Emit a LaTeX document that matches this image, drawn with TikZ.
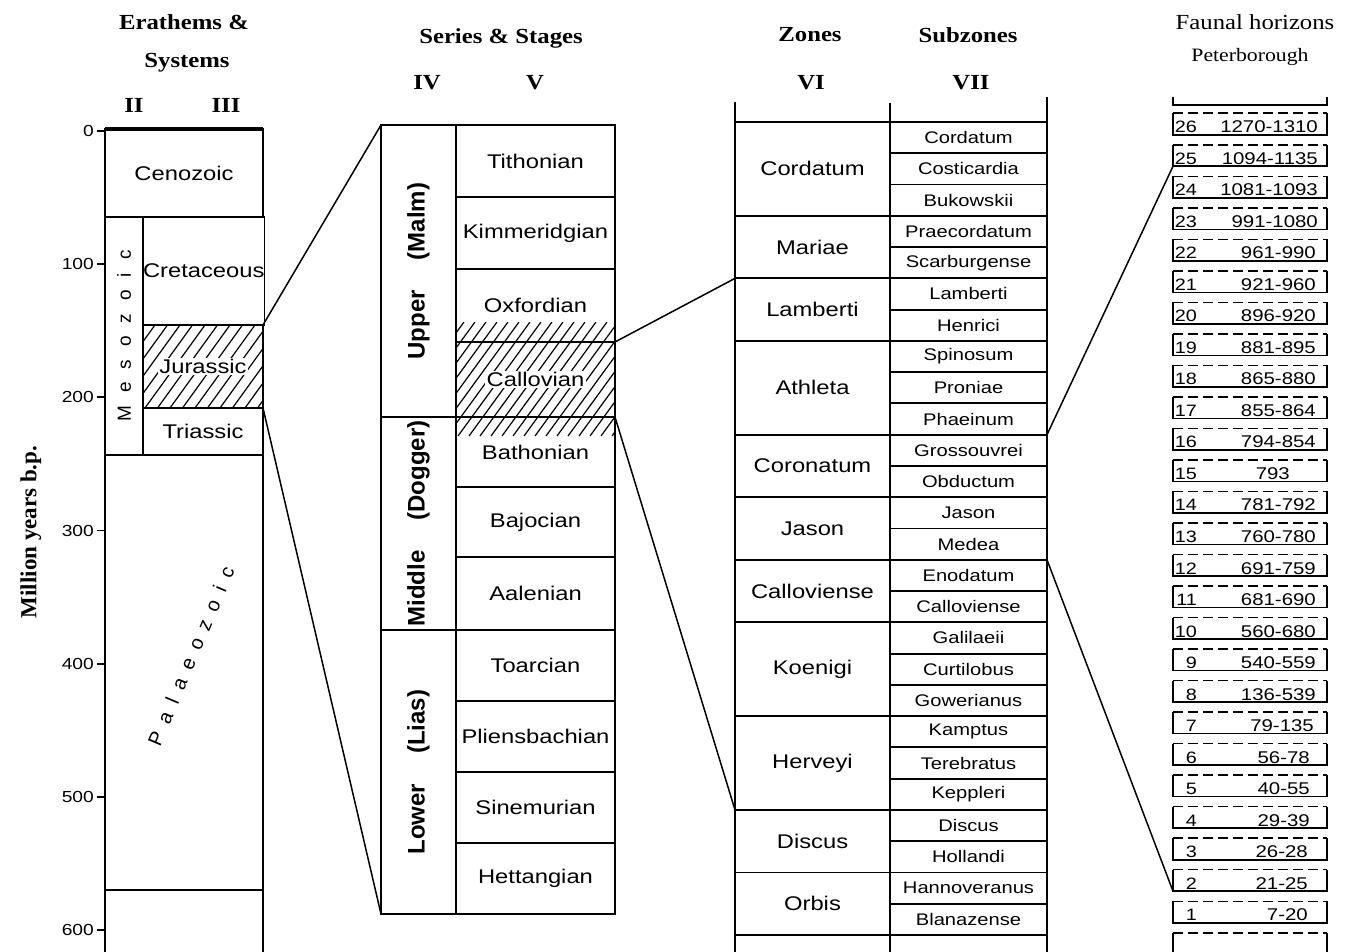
\documentclass[tikz,border=0pt]{standalone}
\usepackage{fontspec}
\setmainfont{Liberation Serif}
\newfontfamily\labfont[FakeStretch=1.2]{Liberation Sans}
\newfontfamily\labnfont{Liberation Sans}
\newfontfamily\hdrfont[FakeStretch=1.15]{Liberation Serif}
\begin{document}
\begin{tikzpicture}[x=1pt,y=-1pt,line join=miter,
  cellbox/.style={draw, line width=1.9pt, inner sep=0pt, outer sep=0pt, anchor=north west},
  hatch/.style={line width=1.2pt},
  conn/.style={line width=1.5pt},
  hdr/.style={font=\hdrfont\bfseries\fontsize{21.5}{24}\selectfont, inner sep=0pt},
  hdrreg/.style={font=\hdrfont\fontsize{21.5}{24}\selectfont, inner sep=0pt},
  mainlab/.style={font=\labfont\fontsize{19.8}{22}\selectfont},
  sublab/.style={font=\labfont\fontsize{16.8}{19}\selectfont},
  fnt/.style={font=\labfont\fontsize{17}{19}\selectfont, inner sep=0pt},
  fnum/.style={font=\labfont\fontsize{16.5}{18}\selectfont, inner sep=0pt},
  axislab/.style={font=\labfont\fontsize{16}{18}\selectfont, inner sep=0pt},
  fcell/.style={inner sep=0pt, outer sep=0pt, minimum width=154pt, minimum height=21.5pt},
  fsolid/.style={line width=1.6pt},
  fdash/.style={line width=1.5pt, dash pattern=on 10pt off 5pt},
]
\useasboundingbox (0,0) rectangle (1350,952);
\fill[white] (0,0) rectangle (1350,952);

% ---------------- headers ----------------
\node[hdr] (h1) at (184,22) {Erathems \&};
\node[hdr] (h2) at (187,63) {Systems};
\node[hdr] (h3) at (134,105) {II};
\node[hdr] (h4) at (226,105) {III};
\node[hdr] (h5) at (501,38) {Series \& Stages};
\node[hdr] (h6) at (427,83) {IV};
\node[hdr] (h7) at (535,83) {V};
\node[hdr] (h8) at (810,35) {Zones};
\node[hdr] (h9) at (968,35) {Subzones};
\node[hdr] (h10) at (811,83) {VI};
\node[hdr] (h11) at (971,83) {VII};
\node[hdrreg] (h12) at (1255,22) {Faunal horizons};
\node[font=\hdrfont\fontsize{18.9}{21}\selectfont, inner sep=0pt] (h13) at (1250,57) {Peterborough};
\node[font=\rmfamily\bfseries\fontsize{23}{25}\selectfont, rotate=90, inner sep=0pt] (h14) at (31,532) {Million years b.p.};

% ---------------- left column ----------------
\begin{scope}
  \clip (143,325) rectangle (263,408);
  \foreach \x in {70,82.5,...,275} \draw[hatch] (\x,408) -- ++(60,-83);
\end{scope}
\node[cellbox, mainlab, minimum width=158pt, minimum height=88pt] (ceno) at (105,129) {Cenozoic};
\node[cellbox, minimum width=38pt, minimum height=238pt] (meso) at (105,217)
  {\rotatebox{90}{\labnfont\fontsize{19}{21}\selectfont\spaceskip=13pt M e s o z o i c}};
\node[cellbox, mainlab, minimum width=120pt, minimum height=108pt] (cret) at (143,217) {Cretaceous};
\node[cellbox, minimum width=120pt, minimum height=83pt,
  label={[mainlab, fill=white, inner sep=1.5pt]center:Jurassic}] (jur) at (143,325) {};
\node[cellbox, mainlab, minimum width=120pt, minimum height=47pt] (tri) at (143,408) {Triassic};
\node[cellbox, minimum width=158pt, minimum height=435pt] (pal) at (105,455) {};
\node[cellbox, minimum width=158pt, minimum height=90pt] (camb) at (105,890) {};
\draw[line width=3.5pt] (ceno.north west) -- (ceno.north east);
\node[rotate=67, font=\labnfont\fontsize{20}{22}\selectfont, inner sep=0pt] (paltext) at (191,656)
  {\spaceskip=10.5pt P a l a e o z o i c};
\foreach \v in {0,100,...,600} {
  \draw[line width=1.8pt] (97,{131+\v*1.3317}) -- (105,{131+\v*1.3317});
  \node[axislab, anchor=east] (t\v) at (94,{131+\v*1.3317}) {\v};
}

% ---------------- middle column ----------------
\begin{scope}
  \clip (456,322) rectangle (615,436);
  \foreach \x in {370,381,...,630} \draw[hatch] (\x,436) -- ++(83,-114);
\end{scope}
\node[cellbox, minimum width=75pt, minimum height=292pt] (upper) at (381,125)
  {\rotatebox{90}{\labnfont\bfseries\fontsize{24}{26}\selectfont\spaceskip=30pt Upper (Malm)}};
\node[cellbox, minimum width=75pt, minimum height=213pt] (middle) at (381,417)
  {\rotatebox{90}{\labnfont\bfseries\fontsize{24}{26}\selectfont\spaceskip=30pt Middle (Dogger)}};
\node[cellbox, minimum width=75pt, minimum height=284pt] (lower) at (381,630)
  {\rotatebox{90}{\labnfont\bfseries\fontsize{24}{26}\selectfont\spaceskip=30pt Lower (Lias)}};
\foreach \name/\t/\h in {Tithonian/125/72, Kimmeridgian/197/72, Oxfordian/269/73,
    Bathonian/417/70, Bajocian/487/70, Aalenian/557/73, Toarcian/630/71,
    Pliensbachian/701/71, Sinemurian/772/71, Hettangian/843/71}
  \node[cellbox, mainlab, minimum width=159pt, minimum height=\h pt] (st-\name) at (456,\t) {\name};
\node[cellbox, minimum width=159pt, minimum height=75pt,
  label={[mainlab, fill=white, inner sep=1.5pt]center:Callovian}] (st-Callovian) at (456,342) {};

% ---------------- zones / subzones ----------------
\foreach \name/\s/\n in {Cordatum/0/3, Mariae/3/2, Lamberti/5/2, Athleta/7/3, Coronatum/10/2,
    Jason/12/2, Calloviense/14/2, Koenigi/16/3, Herveyi/19/3, Discus/22/2, Orbis/24/2}
  \node[cellbox, mainlab, minimum width=155pt, minimum height={\n*31.27pt}] (z-\name) at (735,{122+\s*31.27}) {\name};
\foreach \name [count=\i from 0] in {Cordatum, Costicardia, Bukowskii, Praecordatum, Scarburgense,
    Lamberti, Henrici, Spinosum, Proniae, Phaeinum, Grossouvrei, Obductum, Jason, Medea,
    Enodatum, Calloviense, Galilaeii, Curtilobus, Gowerianus, Kamptus, Terebratus, Keppleri,
    Discus, Hollandi, Hannoveranus, Blanazense}
  \node[cellbox, sublab, minimum width=157pt, minimum height=31.27pt] (s\i) at (890,{122+\i*31.27}) {\name};
\draw[line width=1.9pt] (z-Cordatum.north west) -- ++(0,-20);
\draw[line width=1.9pt] (s0.north west) -- ++(0,-19);
\draw[line width=1.9pt] (s0.north east) -- ++(0,-25);
\draw[line width=1.9pt] (z-Orbis.south west) -- ++(0,25);
\draw[line width=1.9pt] (s25.south west) -- ++(0,25);
\draw[line width=1.9pt] (s25.south east) -- ++(0,25);

% ---------------- faunal horizons ----------------
\foreach \n/\r/\e in {26/1270-1310/1318, 25/1094-1135/1318, 24/1081-1093/1318, 23/991-1080/1318,
    22/961-990/1316, 21/921-960/1316, 20/896-920/1316, 19/881-895/1316, 18/865-880/1316,
    17/855-864/1316, 16/794-854/1316, 15/793/1290, 14/781-792/1316, 13/760-780/1316,
    12/691-759/1316, 11/681-690/1316, 10/560-680/1316, 9/540-559/1316, 8/136-539/1316,
    7/79-135/1314, 6/56-78/1310, 5/40-55/1310, 4/29-39/1310, 3/26-28/1308, 2/21-25/1308, 1/7-20/1308} {
  \node[fcell] (f\n) at (1250,{124+(26-\n)*31.52}) {};
  \draw[fsolid] (f\n.north west) -- (f\n.south west) -- (f\n.south east) -- (f\n.north east);
  \draw[fdash] (f\n.north west) -- (f\n.north east);
  \node[fnum, anchor=base east] (fn\n) at ([xshift=24pt, yshift=2pt]f\n.south west) {\n};
  \node[fnt, anchor=base east] (fr\n) at ([yshift=2pt]f\n.south west -| \e,0) {\r};
}
\node[fcell] (ftop) at (1250,94) {};
\draw[fsolid] ([yshift=8pt]ftop.south west) -- (ftop.south west) -- (ftop.south east) -- ([yshift=8pt]ftop.south east);
\node[fcell] (fbot) at (1250,943.5) {};
\draw[fsolid] (fbot.north west) -- ++(0,30);
\draw[fsolid] (fbot.north east) -- ++(0,30);
\draw[fdash] (fbot.north west) -- (fbot.north east);

% ---------------- connectors ----------------
\draw[conn] (jur.north east) -- (upper.north west);
\draw[conn] (jur.south east) -- (lower.south west);
\draw[conn] (st-Oxfordian.south east) -- (z-Lamberti.north west);
\draw[conn] (st-Callovian.south east) -- (z-Herveyi.south west);
\draw[conn] (s9.south east) -- (f25.south west);
\draw[conn] (s13.south east) -- (f2.south west);
\end{tikzpicture}
\end{document}
